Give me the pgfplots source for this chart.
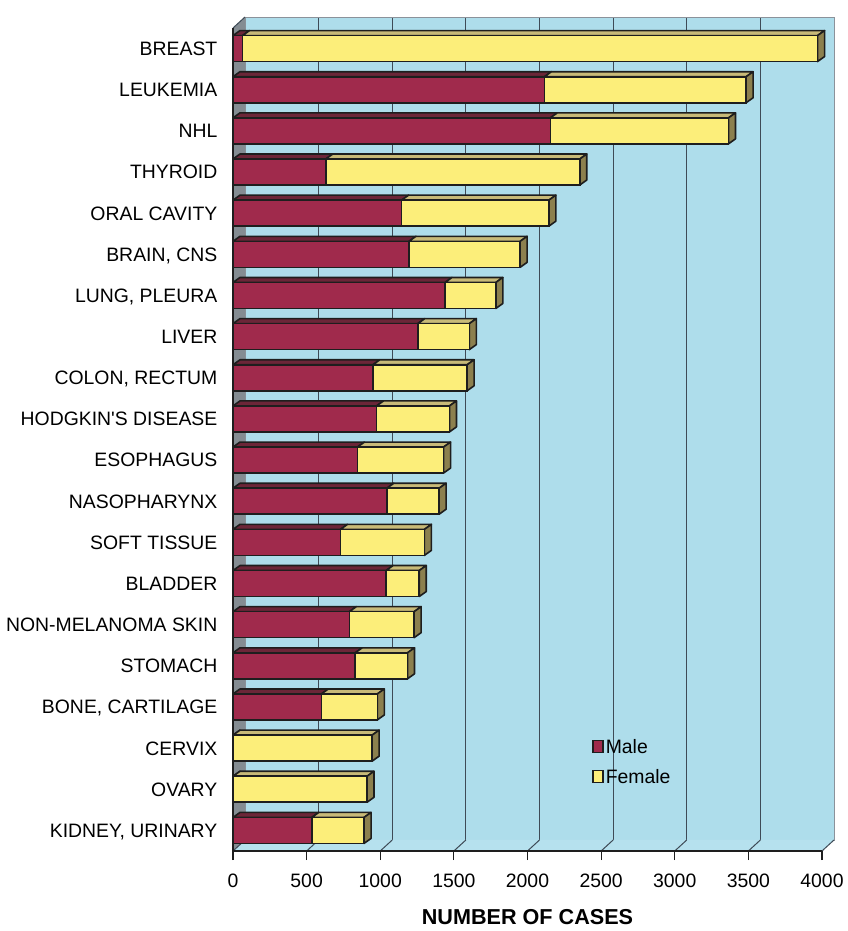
\documentclass[border=0pt]{standalone}
\usepackage{fontspec}
\setmainfont{Liberation Sans}
\usepackage{pgfplots}
\usepackage{pgfplotstable}
\pgfplotsset{compat=1.18}

\definecolor{wallblue}{RGB}{174,221,235}
\definecolor{floorblue}{RGB}{182,225,238}
\definecolor{leftwall}{RGB}{132,140,146}
\definecolor{gridc}{RGB}{62,74,86}
\definecolor{malef}{RGB}{160,42,76}
\definecolor{malet}{RGB}{108,38,56}
\definecolor{femf}{RGB}{252,238,122}
\definecolor{femt}{RGB}{200,186,120}
\definecolor{fems}{RGB}{140,128,78}
\definecolor{edge}{RGB}{30,30,30}

\pgfplotstableread{
y zero male female
0 0 535 355
1 0 0 910
2 0 0 945
3 0 600 380
4 0 830 355
5 0 790 440
6 0 1040 225
7 0 730 570
8 0 1045 355
9 0 845 585
10 0 975 495
11 0 950 640
12 0 1255 350
13 0 1440 345
14 0 1195 755
15 0 1145 1000
16 0 630 1725
17 0 2155 1210
18 0 2115 1370
19 0 65 3905
}\cancerdata

\pgfplotsset{base/.style={scale only axis, width=294.5pt, height=411.5pt,
  xmin=0, xmax=4000, ymin=-0.5, ymax=19.5, enlargelimits=false}}

\begin{document}
\begin{tikzpicture}
\useasboundingbox (0pt,0pt) rectangle (423.5pt,465.5pt);

% back wall
\begin{axis}[base, at={(122.5pt,45.5pt)}, anchor=south west,
  axis background/.style={fill=wallblue},
  axis line style={draw=gridc!60, line width=0.4pt},
  xtick={500,1000,...,3500}, xticklabels={}, ytick=\empty,
  major tick length=0pt, xmajorgrids,
  major grid style={gridc, line width=0.5pt}]
\end{axis}

% floor, left wall and 3D faces of bars
\begin{axis}[base, at={(116.5pt,40pt)}, anchor=south west, hide axis, clip=false]
\fill[floorblue] (axis cs:0,-0.5) -- (axis cs:4000,-0.5) -- ([shift={(6pt,5.5pt)}]axis cs:4000,-0.5) -- ([shift={(6pt,5.5pt)}]axis cs:0,-0.5) -- cycle;
\fill[leftwall] (axis cs:0,-0.5) -- ([shift={(6pt,5.5pt)}]axis cs:0,-0.5) -- ([shift={(6pt,5.5pt)}]axis cs:0,19.5) -- (axis cs:0,19.5) -- cycle;
\pgfplotsinvokeforeach{0,500,...,4000}{\draw[gridc, line width=0.5pt] (axis cs:#1,-0.5) -- ([shift={(6pt,5.5pt)}]axis cs:#1,-0.5);}
\draw[gridc, line width=0.5pt] (axis cs:0,19.5) -- ([shift={(6pt,5.5pt)}]axis cs:0,19.5);
\addplot[scatter, only marks, mark=*, mark size=0.1pt, mark options={draw=none, fill=none},
  visualization depends on={\thisrow{male}\as\mval},
  visualization depends on={\thisrow{female}\as\fval},
  scatter/@pre marker code/.code={%
    \pgfmathsetmacro\mw{\mval*0.073625}%
    \pgfmathsetmacro\tw{(\mval+\fval)*0.073625}%
    \filldraw[fill=malet, draw=edge, line width=0.8pt, line join=round]
      (0pt,6.5pt) -- (\mw pt,6.5pt) -- (\mw pt+3.5pt,9pt) -- (3.5pt,9pt) -- cycle;
    \filldraw[fill=femt, draw=edge, line width=0.8pt, line join=round]
      (\mw pt,6.5pt) -- (\tw pt,6.5pt) -- (\tw pt+3.5pt,9pt) -- (\mw pt+3.5pt,9pt) -- cycle;
    \filldraw[fill=fems, draw=edge, line width=0.8pt, line join=round]
      (\tw pt,-6.5pt) -- (\tw pt+3.5pt,-4pt) -- (\tw pt+3.5pt,9pt) -- (\tw pt,6.5pt) -- cycle;
  },
  scatter/@post marker code/.code={}
] table[x=zero, y=y] {\cancerdata};
\end{axis}

% front faces, axes, labels
\begin{axis}[base, at={(116.5pt,40pt)}, anchor=south west, clip=false,
  xbar stacked, bar width=13pt,
  axis x line*=bottom, axis y line*=left,
  axis line style={edge, line width=0.7pt},
  tick style={edge, line width=0.6pt},
  tick align=outside,
  xtick={0,500,...,4000}, major tick length=4.5pt,
  ytick=\empty, minor ytick={-0.5,0.5,...,19.5}, minor tick length=6pt,
  extra y ticks={0,1,...,19},
  extra y tick labels={{KIDNEY, URINARY},OVARY,CERVIX,{BONE, CARTILAGE},STOMACH,NON-MELANOMA SKIN,BLADDER,SOFT TISSUE,NASOPHARYNX,ESOPHAGUS,HODGKIN\textquotesingle S DISEASE,{COLON, RECTUM},LIVER,{LUNG, PLEURA},{BRAIN, CNS},ORAL CAVITY,THYROID,NHL,LEUKEMIA,BREAST},
  extra y tick style={grid=none, major tick length=0pt,
    yticklabel style={xshift=-4.3pt, text height=6.9pt, text depth=0pt}},
  ticklabel style={font=\fontsize{9.7}{11}\selectfont},
  /pgf/number format/assume math mode=true,
  /pgf/number format/1000 sep={},
  scaled x ticks=false,
  xticklabel style={yshift=-3.5pt},
  xlabel={NUMBER OF CASES},
  xlabel style={font=\fontsize{10.8}{12}\selectfont\bfseries, at={(axis description cs:0.5,0)}, anchor=center, yshift=-33pt},
  legend style={at={(0.6095,0.139)}, anchor=north west, draw=none, fill=none,
    inner sep=0pt, row sep=5.5pt, font=\fontsize{9.7}{11}\selectfont,
    nodes={inner sep=1pt, text height=7.5pt, text depth=0pt}},
  legend cell align=left]
\addplot[fill=malef, draw=edge, line width=0.8pt,
  legend image code/.code={\draw[fill=malef, draw=edge, line width=0.7pt] (0pt,-3pt) rectangle (5pt,3pt);}]
  table[x=male, y=y] {\cancerdata};
\addplot[fill=femf, draw=edge, line width=0.8pt,
  legend image code/.code={\draw[fill=femf, draw=edge, line width=0.7pt] (0pt,-3pt) rectangle (5pt,3pt);}]
  table[x=female, y=y] {\cancerdata};
\legend{Male,Female}
\end{axis}
\end{tikzpicture}
\end{document}
